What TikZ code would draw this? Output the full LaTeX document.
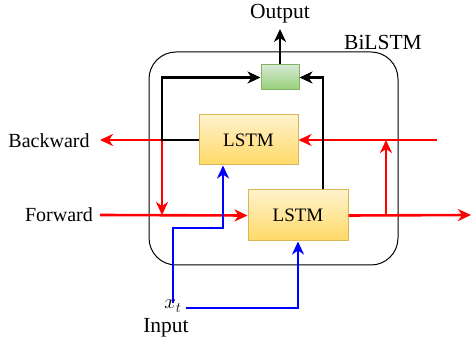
\documentclass[tikz,border=0pt]{standalone}
\usepackage{fontspec}
\setmainfont{Liberation Serif}
\usetikzlibrary{arrows.meta,positioning,calc}
\definecolor{lstmtop}{HTML}{FFF2CC}
\definecolor{lstmbot}{HTML}{FFD966}
\definecolor{lstmdraw}{HTML}{D6B656}
\definecolor{aggtop}{HTML}{D5E8D4}
\definecolor{aggbot}{HTML}{97D077}
\definecolor{aggdraw}{HTML}{82B366}
\definecolor{redline}{HTML}{FF0000}
\definecolor{blueline}{HTML}{0000FF}
\tikzset{
  lstmbox/.style={draw=lstmdraw, line width=1pt, top color=lstmtop, bottom color=lstmbot,
    minimum width=99pt, minimum height=50pt, font=\fontsize{19}{21}\selectfont, inner sep=0pt},
  aggbox/.style={draw=aggdraw, line width=1pt, top color=aggtop, bottom color=aggbot,
    minimum width=38pt, minimum height=25pt, inner sep=0pt},
  container/.style={draw=black, line width=1pt, rounded corners=27pt, minimum width=249pt, minimum height=213pt},
  conn/.style={line width=2.6pt, -{Stealth[length=13pt,width=12pt,inset=4pt]}},
  lbl/.style={inner sep=0pt},
  bigfont/.style={font=\fontsize{21.5}{24}\selectfont},
  midfont/.style={font=\fontsize{20}{22}\selectfont},
}
\begin{document}
\begin{tikzpicture}[x=1pt,y=-1pt]
\useasboundingbox (0,0) rectangle (471,344);
% container
\node[container] (bi) at (273.5,158.5) {};
\node[lbl,bigfont] (bilbl) at (383,42) {BiLSTM};
% nodes
\node[lstmbox] (up) at (248.5,140) {LSTM};
\node[lstmbox, minimum width=100pt, minimum height=51pt] (lo) at (298,215.5) {LSTM};
\node[aggbox] (g) at (280,77.5) {};
\node[lbl,bigfont] (out) at (280,14) {Output};
\node[lbl,midfont] (bw) at (49,141) {Backward};
\node[lbl,midfont] (fw) at (59,215) {Forward};
\node[lbl,font=\fontsize{21}{22}\selectfont] (xt) at (173,306) {$x_t$};
\node[lbl,bigfont] (in) at (166,328) {Input};
% coordinates
\coordinate (bwend) at (100,140);
\coordinate (fwstart) at (100,215);
\coordinate (rin) at (437,140);
\coordinate (rout) at (471,215);
\coordinate (jb) at (162,140);
\coordinate (jf) at (162,215);
\coordinate (jr) at (386,215);
\coordinate (jr2) at (386,140);
\coordinate (outend) at (280,29);
\coordinate (b1) at (223,228);
% red connectors
\draw[conn,redline] (rin) -- (up.east);
\draw[conn,redline] (up.west) -- (bwend);
\draw[conn,redline] (jb) -- (jf);
\draw[conn,redline] (fwstart) -- (lo.west);
\draw[conn,redline] (lo.east) -- (rout);
\draw[conn,redline] (jr) -- (jr2);
% black connectors
\draw[conn,black] (up.west) -- (jb) |- (g.west);
\draw[conn,black] ([xshift=25pt]lo.north) |- (g.east);
\draw[conn,black] (g.north) -- (outend);
% blue connectors
\draw[conn,blueline] ([yshift=-3pt]xt.north) |- (b1) -- ([xshift=-25.5pt]up.south);
\draw[conn,blueline] ([xshift=4pt,yshift=-2pt]xt.east) -| (lo.south);
\end{tikzpicture}
\end{document}
